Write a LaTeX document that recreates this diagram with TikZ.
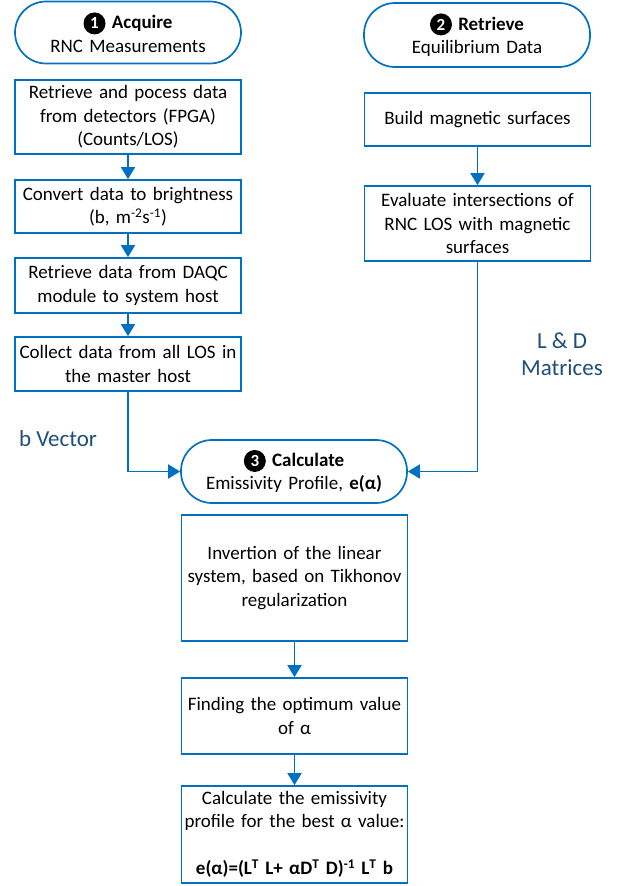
\documentclass[tikz,border=0pt]{standalone}
\usepackage{fontspec}
\setmainfont{Carlito}
\usetikzlibrary{arrows.meta}
\definecolor{boxblue}{HTML}{0070C0}
\definecolor{labblue}{HTML}{1F4E79}
\newcommand{\numcirc}[1]{\tikz[baseline=(nc.base)]\node[circle,fill=black,text=white,inner sep=0pt,minimum size=22pt,font=\fontsize{17}{17}\selectfont\bfseries](nc){#1};}
\tikzset{
  base/.style={draw=boxblue,line width=1.7pt,align=center,inner sep=3pt,
    font=\fontsize{19}{23.5}\selectfont,text width=220pt},
  procbox/.style={base,rectangle},
  term/.style={base,rounded corners=31pt},
  conn/.style={draw=boxblue,line width=1.7pt,-{Triangle[length=12pt,width=14pt]}},
  lab/.style={text=labblue,font=\fontsize{23}{27}\selectfont,align=center}
}
\begin{document}
\begin{tikzpicture}[x=1pt,y=-1pt]
\useasboundingbox (0,0) rectangle (623,886);
% left column
\node[term,minimum height=62pt] (acq) at (128,32.5) {\numcirc{1} \textbf{Acquire}\\RNC Measurements};
\node[procbox,minimum height=74pt] (r1) at (128,117) {Retrieve and pocess data\\from detectors (FPGA)\\(Counts/LOS)};
\node[procbox,minimum height=53pt] (r2) at (128,206.5) {Convert data to brightness\\(b, m\textsuperscript{-2}s\textsuperscript{-1})};
\node[procbox,minimum height=55pt] (r3) at (128,285.5) {Retrieve data from DAQC\\module to system host};
\node[procbox,minimum height=54pt] (r4) at (128,364) {Collect data from all LOS in\\the master host};
% right column
\node[term,minimum height=64pt] (ret) at (477,35) {\numcirc{2} \textbf{Retrieve}\\Equilibrium Data};
\node[procbox,minimum height=53pt] (b1) at (477.5,119.5) {Build magnetic surfaces};
\node[procbox,minimum height=75pt] (b2) at (477.5,223.5) {Evaluate intersections of\\RNC LOS with magnetic\\surfaces};
% center
\node[term,minimum height=63pt] (calc) at (294,471.5) {\numcirc{3} \textbf{Calculate}\\Emissivity Profile, \textbf{e(α)}};
\node[procbox,minimum height=126pt] (i1) at (294.5,578) {Invertion of the linear\\system, based on Tikhonov\\regularization};
\node[procbox,minimum height=76pt] (i2) at (294.5,716) {Finding the optimum value\\of α};
\node[procbox,minimum height=97pt] (i3) at (294.5,834.5) {Calculate the emissivity\\profile for the best α value:\\[23.5pt]\textbf{e(α)=(L\textsuperscript{T} L+ αD\textsuperscript{T} D)\textsuperscript{-1} L\textsuperscript{T} b}};
% labels
\node[lab] (bvec) at (58,439) {b Vector};
\node[lab] (ldm) at (562,354) {L \& D\\Matrices};
% connectors
\draw[conn] (r1) -- (r2);
\draw[conn] (r2) -- (r3);
\draw[conn] (r3) -- (r4);
\draw[conn] (b1.south) -- (b2.north);
\draw[conn] (r4.south) |- (calc.west);
\draw[conn] (b2.south) |- (calc.east);
\draw[conn] (i1) -- (i2);
\draw[conn] (i2) -- (i3);
\end{tikzpicture}
\end{document}
